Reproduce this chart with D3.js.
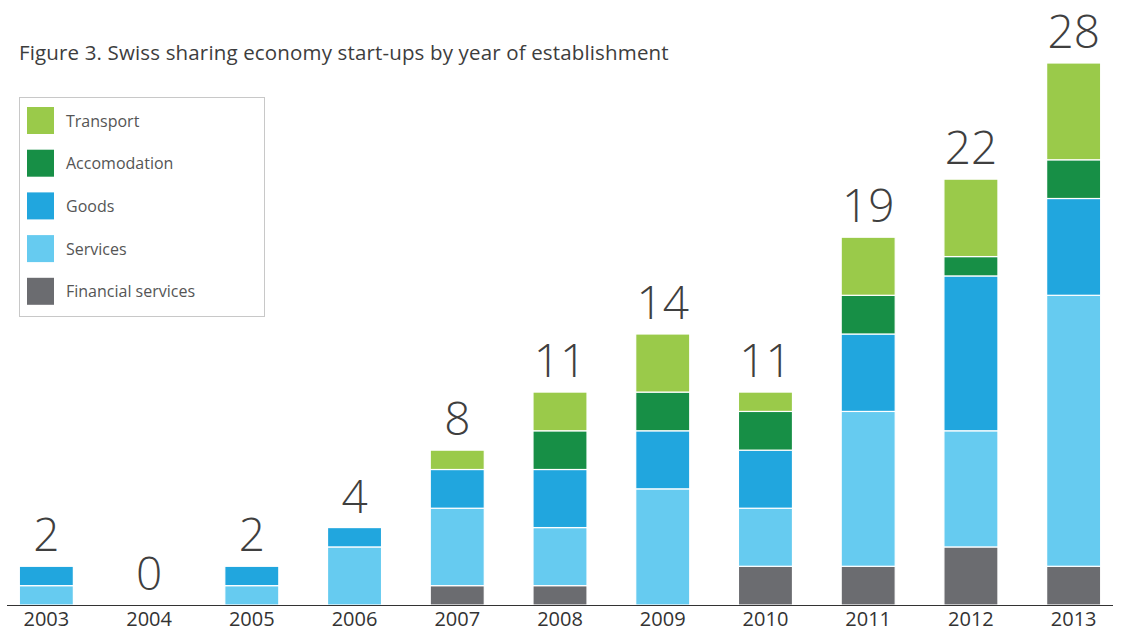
<!DOCTYPE html>
<html>
<head>
<meta charset="utf-8">
<script src="https://cdn.jsdelivr.net/npm/d3@7"></script>
<style>
  body { margin: 0; background: #fff; }
  svg { display: block; font-family: "Open Sans", sans-serif; }
</style>
</head>
<body>
<script>
var width = 1122,
    height = 632;

// data, bottom of stack first
var years = ["2003", "2004", "2005", "2006", "2007", "2008", "2009", "2010", "2011", "2012", "2013"];
var financial    = [0, 0, 0, 0, 1, 1, 0, 2, 2, 3, 2];
var services     = [1, 0, 1, 3, 4, 3, 6, 3, 8, 6, 14];
var goods        = [1, 0, 1, 1, 2, 3, 3, 3, 4, 8, 5];
var accomodation = [0, 0, 0, 0, 0, 2, 2, 2, 2, 1, 2];
var transport    = [0, 0, 0, 0, 1, 2, 3, 1, 3, 4, 5];

var seriesNames = ["Financial services", "Services", "Goods", "Accomodation", "Transport"];
var seriesColors = ["#6b6c70", "#66cbf0", "#21a6de", "#178f46", "#9aca4a"];
var seriesValues = [financial, services, goods, accomodation, transport];

var rows = years.map(function(y, i) {
  var r = { year: y };
  seriesNames.forEach(function(s, k) { r[s] = seriesValues[k][i]; });
  r.total = d3.sum(seriesValues, function(v) { return v[i]; });
  return r;
});

var svg = d3.select("body").append("svg")
    .attr("width", width)
    .attr("height", height);

var x = d3.scaleBand()
    .domain(years)
    .range([7, 1113])
    .paddingInner(0.474)
    .paddingOuter(0.12);

var y = d3.scaleLinear()
    .domain([0, 28])
    .range([605, 63]);

var color = d3.scaleOrdinal()
    .domain(seriesNames)
    .range(seriesColors);

var stacked = d3.stack().keys(seriesNames)(rows);

//bars
svg.append("g")
  .selectAll("g")
  .data(stacked)
  .enter().append("g")
    .attr("fill", function(d) { return color(d.key); })
  .selectAll("rect")
  .data(function(d) { return d.filter(function(p) { return p[1] > p[0]; }); })
  .enter().append("rect")
    .attr("x", function(d) { return x(d.data.year); })
    .attr("y", function(d) { return y(d[1]); })
    .attr("width", x.bandwidth())
    .attr("height", function(d) { return y(d[0]) - y(d[1]); })
    .attr("stroke", "#fff")
    .attr("stroke-width", 1.2);

//totals
svg.append("g")
  .selectAll("text")
  .data(rows)
  .enter().append("text")
    .attr("x", function(d) { return x(d.year) + x.bandwidth() / 2; })
    .attr("y", function(d) { return y(d.total) - 15; })
    .attr("text-anchor", "middle")
    .attr("font-size", 46)
    .attr("font-weight", 300)
    .attr("fill", "#3f3f3f")
    .text(function(d) { return d.total; });

//axis
var xAxis = svg.append("g")
    .attr("transform", "translate(0,605)")
    .call(d3.axisBottom(x).tickSize(0).tickPadding(0));
xAxis.select(".domain")
    .attr("d", "M7,0.5H1113")
    .attr("stroke", "#333");
xAxis.selectAll("text")
    .attr("dy", null)
    .attr("y", 21)
    .attr("font-family", "Open Sans, sans-serif")
    .attr("font-size", 20)
    .attr("fill", "#333");

//title
svg.append("text")
    .attr("x", 19)
    .attr("y", 60)
    .attr("font-size", 20.5)
    .attr("letter-spacing", 0.15)
    .attr("fill", "#3d3d3d")
    .text("Figure 3. Swiss sharing economy start-ups by year of establishment");

//legend
var legend = svg.append("g");
legend.append("rect")
    .attr("x", 19.5)
    .attr("y", 97.5)
    .attr("width", 245)
    .attr("height", 219)
    .attr("fill", "#fff")
    .attr("stroke", "#c8c8c8");

var legendOrder = seriesNames.slice().reverse();
var item = legend.selectAll("g.item")
  .data(legendOrder)
  .enter().append("g")
    .attr("class", "item")
    .attr("transform", function(d, i) { return "translate(27," + (107 + i * 42.7) + ")"; });
item.append("rect")
    .attr("width", 27)
    .attr("height", 27)
    .attr("fill", function(d) { return color(d); });
item.append("text")
    .attr("x", 39)
    .attr("y", 19.5)
    .attr("font-size", 16)
    .attr("fill", "#555")
    .text(function(d) { return d; });
</script>
</body>
</html>
